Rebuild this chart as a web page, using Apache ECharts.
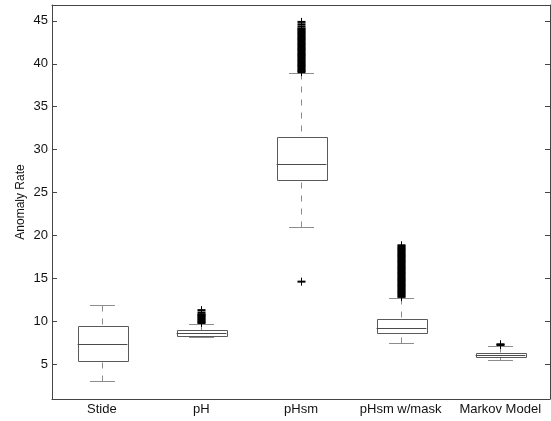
<!DOCTYPE html>
<html>
<head>
<meta charset="utf-8">
<script src="https://cdn.jsdelivr.net/npm/echarts@6/dist/echarts.min.js"></script>
<style>
  html, body { margin: 0; padding: 0; background: #fff; }
  #boxchart { width: 551px; height: 421px; }
</style>
</head>
<body>
<div id="boxchart"></div>
<script>
// box statistics
const categories = ['Stide', 'pH', 'pHsm', 'pHsm w/mask', 'Markov Model']
const whiskerLow = [3.0, 8.1, 21.0, 7.4, 5.45]
const q1 = [5.34, 8.3, 26.35, 8.6, 5.84]
const median = [7.28, 8.63, 28.26, 9.22, 6.07]
const q3 = [9.45, 8.95, 31.41, 10.23, 6.31]
const whiskerHigh = [11.87, 9.65, 38.94, 12.72, 7.12]

// outliers (dense clusters read as closely packed points)
const outliersStide = []
const outliersPH = [9.78, 9.9, 10.04, 10.18, 10.3, 10.44, 10.57, 10.7, 10.8, 11.0, 11.28]
const outliersPHsm = [14.6, 39.02, 39.15, 39.3, 39.44, 39.6, 39.74, 39.88, 40.02, 40.16, 40.3,
  40.45, 40.6, 40.74, 40.88, 41.02, 41.16, 41.3, 41.45, 41.6, 41.74, 41.88, 42.02, 42.16,
  42.3, 42.45, 42.6, 42.74, 42.88, 43.02, 43.16, 43.3, 43.45, 43.6, 43.74, 43.88, 44.02,
  44.12, 44.35, 44.6, 44.88]
const outliersPHsmMask = [12.82, 12.96, 13.1, 13.24, 13.38, 13.52, 13.66, 13.8, 13.94, 14.08,
  14.22, 14.36, 14.5, 14.64, 14.78, 14.92, 15.06, 15.2, 15.34, 15.48, 15.62, 15.76, 15.9,
  16.04, 16.18, 16.32, 16.46, 16.6, 16.74, 16.88, 17.02, 17.16, 17.3, 17.44, 17.58, 17.72,
  17.86, 18.0, 18.14, 18.28, 18.42, 18.56, 18.7, 18.84]
const outliersMarkov = [7.22, 7.3]

const yTicks = [5, 10, 15, 20, 25, 30, 35, 40, 45]

const boxData = categories.map((c, i) => [i, whiskerLow[i], q1[i], median[i], q3[i], whiskerHigh[i]])
const outlierData = []
;[outliersStide, outliersPH, outliersPHsm, outliersPHsmMask, outliersMarkov].forEach((arr, i) => {
  arr.forEach(v => outlierData.push([i, v]))
})

function px(v) {
  return Math.round(v) + 0.5
}

function renderBox(params, api) {
  const i = api.value(0)
  const lo = api.coord([i, api.value(1)])
  const b1 = api.coord([i, api.value(2)])
  const md = api.coord([i, api.value(3)])
  const b3 = api.coord([i, api.value(4)])
  const hi = api.coord([i, api.value(5)])
  const band = api.size([1, 0])[0]
  const cx = px(lo[0])
  const hw = band * 0.25
  const cw = band * 0.125
  const boxStyle = { stroke: '#5a5a5a', lineWidth: 1, fill: null }
  const capStyle = { stroke: '#8c8c8c', lineWidth: 1 }
  const dashStyle = { stroke: '#8c8c8c', lineWidth: 1, lineDash: [6, 7] }
  return {
    type: 'group',
    children: [
      { type: 'line', shape: { x1: cx, y1: px(hi[1]), x2: cx, y2: px(b3[1]) }, style: dashStyle },
      { type: 'line', shape: { x1: cx, y1: px(lo[1]), x2: cx, y2: px(b1[1]) }, style: dashStyle },
      { type: 'line', shape: { x1: cx - cw, y1: px(hi[1]), x2: cx + cw, y2: px(hi[1]) }, style: capStyle },
      { type: 'line', shape: { x1: cx - cw, y1: px(lo[1]), x2: cx + cw, y2: px(lo[1]) }, style: capStyle },
      {
        type: 'rect',
        shape: { x: px(cx - hw), y: px(b3[1]), width: Math.round(hw * 2), height: Math.round(b1[1] - b3[1]) },
        style: boxStyle
      },
      { type: 'line', shape: { x1: cx - hw, y1: px(md[1]), x2: cx + hw, y2: px(md[1]) }, style: { stroke: '#4a4a4a', lineWidth: 1 } }
    ]
  }
}

function renderPlus(params, api) {
  const p = api.coord([api.value(0), api.value(1)])
  const x = px(p[0])
  const y = p[1]
  const s = 4
  return {
    type: 'group',
    children: [
      { type: 'line', shape: { x1: x - s, y1: y, x2: x + s, y2: y }, style: { stroke: '#000', lineWidth: 2 } },
      { type: 'line', shape: { x1: x, y1: y - s, x2: x, y2: y + s }, style: { stroke: '#000', lineWidth: 1 } }
    ]
  }
}

const axisLineStyle = { color: '#444', width: 1 }
const chart = echarts.init(document.getElementById('boxchart'))
chart.setOption({
  animation: false,
  grid: { left: 52, right: 1, top: 5, bottom: 22 },
  xAxis: [
    {
      type: 'category',
      data: categories,
      position: 'bottom',
      axisLine: { lineStyle: axisLineStyle },
      axisTick: { inside: true, length: 5, alignWithLabel: true, interval: 0, lineStyle: axisLineStyle },
      axisLabel: { color: '#111', fontSize: 13, fontFamily: 'Liberation Sans, Arial', margin: 4, interval: 0 },
      splitLine: { show: false }
    },
    {
      type: 'category',
      data: categories,
      position: 'top',
      axisLine: { lineStyle: axisLineStyle },
      axisTick: { inside: true, length: 5, alignWithLabel: true, interval: 0, lineStyle: axisLineStyle },
      axisLabel: { show: false },
      splitLine: { show: false }
    }
  ],
  yAxis: [
    {
      type: 'value',
      min: 0.92,
      max: 46.85,
      position: 'left',
      name: 'Anomaly Rate',
      nameLocation: 'middle',
      nameGap: 25,
      nameMoveOverlap: false,
      nameTextStyle: { color: '#111', fontSize: 12, fontFamily: 'Liberation Sans, Arial' },
      axisLine: { show: true, lineStyle: axisLineStyle },
      axisTick: { show: true, inside: true, length: 5, customValues: yTicks, lineStyle: axisLineStyle },
      axisLabel: { color: '#111', fontSize: 13, fontFamily: 'Liberation Sans, Arial', margin: 4, customValues: yTicks },
      splitLine: { show: false }
    },
    {
      type: 'value',
      min: 0.92,
      max: 46.85,
      position: 'right',
      axisLine: { show: true, lineStyle: axisLineStyle },
      axisTick: { show: true, inside: true, length: 5, customValues: yTicks, lineStyle: axisLineStyle },
      axisLabel: { show: false },
      splitLine: { show: false }
    }
  ],
  series: [
    {
      type: 'custom',
      renderItem: renderBox,
      data: boxData,
      encode: { x: 0, y: [1, 2, 3, 4, 5] }
    },
    {
      type: 'custom',
      renderItem: renderPlus,
      data: outlierData,
      encode: { x: 0, y: 1 }
    }
  ]
})
</script>
</body>
</html>
